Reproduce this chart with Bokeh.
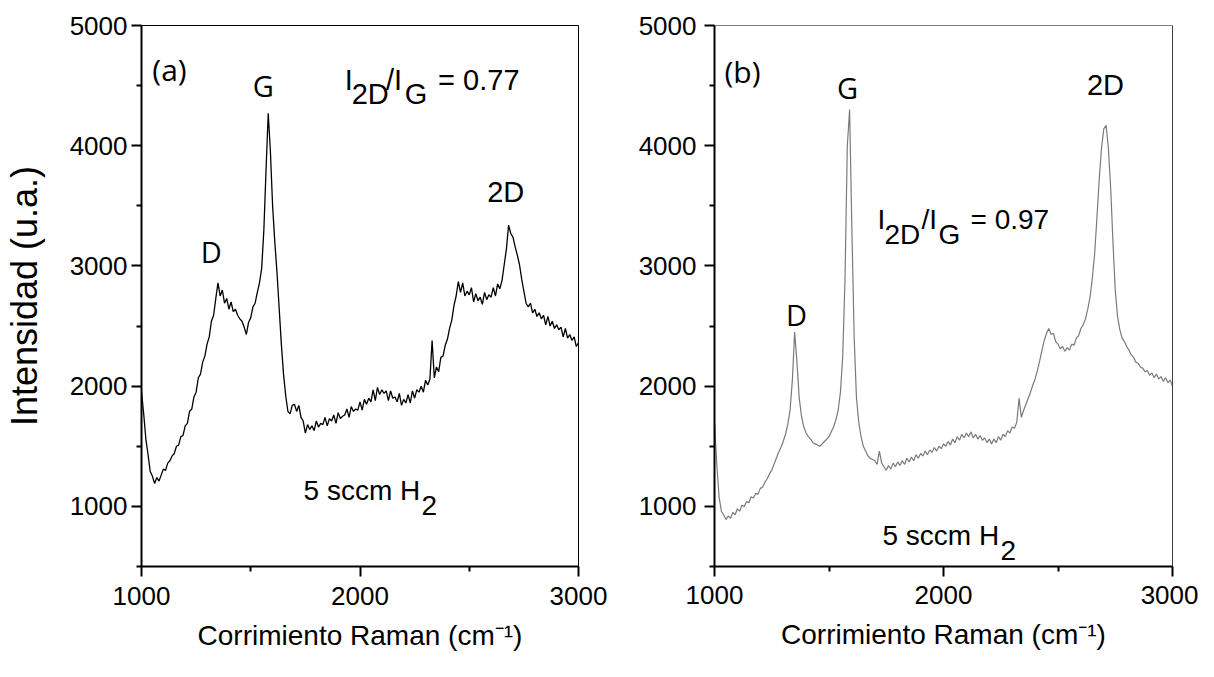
from bokeh.plotting import figure
from bokeh.models import Range1d, FixedTicker, Label, Span
from bokeh.layouts import row
from bokeh.embed import file_html
from bokeh.resources import INLINE

# ---------------- data ----------------
# Raman shift every 10 cm-1 from 1000 to 3000 (both panels)
shift = list(range(1000, 3001, 10))

# panel (a) intensity (black)
int_a = [1950,1770,1560,1430,1290,1250,1190,1240,1210,1260,1310,1300,1360,1380,1420,1440,1500,1510,1580,1590,
         1670,1690,1790,1810,1910,1950,2070,2100,2200,2250,2350,2410,2540,2590,2730,2860,2750,2800,2690,2730,
         2640,2700,2620,2640,2590,2560,2540,2490,2430,2530,2570,2660,2690,2780,2860,2980,3300,3800,4270,3950,
         3500,3200,2950,2650,2350,2100,1920,1790,1770,1840,1850,1790,1840,1740,1710,1610,1680,1640,1670,1630,
         1710,1660,1690,1680,1740,1670,1730,1710,1760,1690,1780,1730,1750,1760,1810,1740,1830,1790,1810,1800,
         1870,1800,1890,1850,1900,1870,1970,1880,1990,1930,1970,1940,1960,1880,1960,1900,1910,1870,1940,1840,
         1890,1860,1930,1860,1960,1900,1970,1950,2000,1950,2050,2010,2060,2380,2070,2160,2120,2240,2250,2340,
         2390,2480,2550,2670,2750,2870,2780,2860,2750,2790,2760,2820,2700,2770,2710,2740,2680,2780,2720,2760,
         2740,2820,2750,2850,2810,2880,3010,3140,3340,3270,3240,3160,3090,3010,2890,2790,2690,2660,2690,2610,
         2640,2580,2610,2560,2590,2510,2580,2500,2540,2480,2510,2470,2490,2410,2480,2400,2430,2380,2410,2330,
         2360]

# panel (b) intensity (grey)
int_b = [1700,1350,1080,960,930,890,920,900,950,930,980,960,1010,1000,1040,1030,1080,1070,1110,1100,
         1150,1160,1200,1230,1270,1300,1350,1400,1450,1490,1540,1600,1680,1800,2050,2450,2200,1900,1750,1660,
         1610,1580,1560,1530,1520,1510,1500,1520,1540,1560,1580,1620,1660,1720,1800,1950,2250,2900,4000,4300,
         3300,2400,1900,1700,1580,1500,1460,1420,1400,1390,1380,1350,1460,1360,1330,1300,1340,1310,1360,1330,
         1370,1340,1380,1350,1400,1370,1410,1380,1430,1400,1440,1420,1460,1430,1470,1450,1490,1460,1500,1480,
         1520,1500,1540,1510,1560,1530,1580,1550,1600,1570,1610,1580,1620,1570,1600,1560,1590,1550,1570,1530,
         1560,1520,1560,1530,1580,1550,1600,1580,1630,1610,1660,1650,1700,1900,1740,1800,1850,1900,1950,2010,
         2060,2130,2210,2300,2380,2440,2480,2430,2440,2370,2350,2310,2330,2290,2320,2300,2350,2340,2400,2420,
         2480,2510,2560,2640,2740,2900,3100,3400,3720,3980,4140,4170,3980,3650,3200,2800,2580,2470,2400,2370,
         2330,2300,2260,2240,2200,2190,2160,2150,2120,2130,2090,2110,2070,2100,2060,2080,2040,2070,2030,2050,
         2000]

x_major = [1000, 2000, 3000]
x_minor = [1500, 2500]
y_major = [1000, 2000, 3000, 4000, 5000]
y_minor = [500, 1500, 2500, 3500, 4500]

x_title = "Corrimiento Raman (cm\u207b\u00b9)"
y_title = "Intensidad (u.a.)"

TICK_FONT = "Liberation Sans"
ANNOT_FONT = "Open Sans"


def make_fig(width, bl, br, bt, bb, outline):
    p = figure(width=width, height=661, x_range=Range1d(1000, 3000), y_range=Range1d(500, 5000),
               output_backend="svg", toolbar_location=None,
               min_border_left=bl, min_border_right=br, min_border_top=bt, min_border_bottom=bb)
    p.grid.visible = False
    p.outline_line_color = outline
    p.outline_line_width = 1
    p.background_fill_color = "white"
    p.border_fill_color = "white"
    p.xaxis.ticker = FixedTicker(ticks=x_major, minor_ticks=x_minor)
    p.yaxis.ticker = FixedTicker(ticks=y_major, minor_ticks=y_minor)
    for ax in (p.xaxis[0], p.yaxis[0]):
        ax.axis_line_color = "black"
        ax.axis_line_width = 2
        ax.major_tick_line_color = "black"
        ax.major_tick_line_width = 2
        ax.minor_tick_line_color = "black"
        ax.minor_tick_line_width = 2
        ax.major_tick_in = 0
        ax.major_tick_out = 10
        ax.minor_tick_in = 0
        ax.minor_tick_out = 5
        ax.major_label_text_font = TICK_FONT
        ax.major_label_text_font_size = "26px"
        ax.major_label_text_color = "black"
        ax.axis_label_text_color = "black"
        ax.axis_label_text_font = "Liberation Sans"
        ax.axis_label_text_font_style = "normal"
    p.xaxis.axis_label = x_title
    p.xaxis.axis_label_text_font_size = "28px"
    p.xaxis.axis_label_standoff = 12
    return p


def put(p, geom, px, py, text, size, font="Liberation Sans", align="left", color="black"):
    # geom: page-pixel frame (x0, x1, y0, y1) -> data position
    x0, x1, y0, y1 = geom
    xd = 1000 + (px - x0) * 2000.0 / (x1 - x0)
    yd = 500 + (y1 - py) * 4500.0 / (y1 - y0)
    p.add_layout(Label(x=xd, y=yd, x_units="data", y_units="data", text=text,
                       text_font=font, text_font_size=size, text_align=align,
                       text_baseline="alphabetic", text_color=color))


# ---------------- panel (a) ----------------
p1 = make_fig(632, 133, 54, 25, 87, "black")
g1 = (141, 586, 33, 582)
p1.line(shift, int_a, line_color="black", line_width=1.3)
p1.xaxis.major_label_standoff = 10
p1.yaxis.major_label_standoff = 4
p1.yaxis.axis_label = y_title
p1.yaxis.axis_label_text_font_size = "36px"
p1.yaxis.axis_label_standoff = 22

put(p1, g1, 152, 78, "(a)", "30px", ANNOT_FONT)
put(p1, g1, 265, 94, "G", "29px", ANNOT_FONT, align="center")
put(p1, g1, 212, 262, "D", "29px", ANNOT_FONT, align="center")
put(p1, g1, 493, 202, "2D", "29px")
put(p1, g1, 348, 88, "I", "29px")
put(p1, g1, 355, 103, "2D", "29px")
put(p1, g1, 390, 88, "/I", "29px")
put(p1, g1, 409, 103, "G", "29px")
put(p1, g1, 443, 88, "= 0.77", "29px")
put(p1, g1, 306, 505, "5 sccm H", "28px")
put(p1, g1, 426, 520, "2", "28px")

# ---------------- panel (b) ----------------
p2 = make_fig(566, 82, 26, 17, 95, "#808080")
g2 = (722, 1180, 25, 574)
p2.line(shift, int_b, line_color="#7a7a7a", line_width=1.2)
p2.add_layout(Span(location=3000, dimension="height", line_color="black", line_width=1))
p2.xaxis.major_label_standoff = 9
p2.yaxis.major_label_standoff = 8

put(p2, g2, 732, 72, "(b)", "30px", ANNOT_FONT)
put(p2, g2, 855, 88, "G", "29px", ANNOT_FONT, align="center")
put(p2, g2, 804, 318, "D", "29px", ANNOT_FONT, align="center")
put(p2, g2, 1113, 85, "2D", "29px", align="center")
put(p2, g2, 885, 222, "I", "28px")
put(p2, g2, 892, 237, "2D", "28px")
put(p2, g2, 929, 222, "/I", "28px")
put(p2, g2, 946, 237, "G", "28px")
put(p2, g2, 978, 222, "= 0.97", "28px")
put(p2, g2, 890, 543, "5 sccm H", "28px")
put(p2, g2, 1008, 558, "2", "28px")

layout = row(p1, p2)
open("out.html", "w").write(file_html(layout, INLINE))
